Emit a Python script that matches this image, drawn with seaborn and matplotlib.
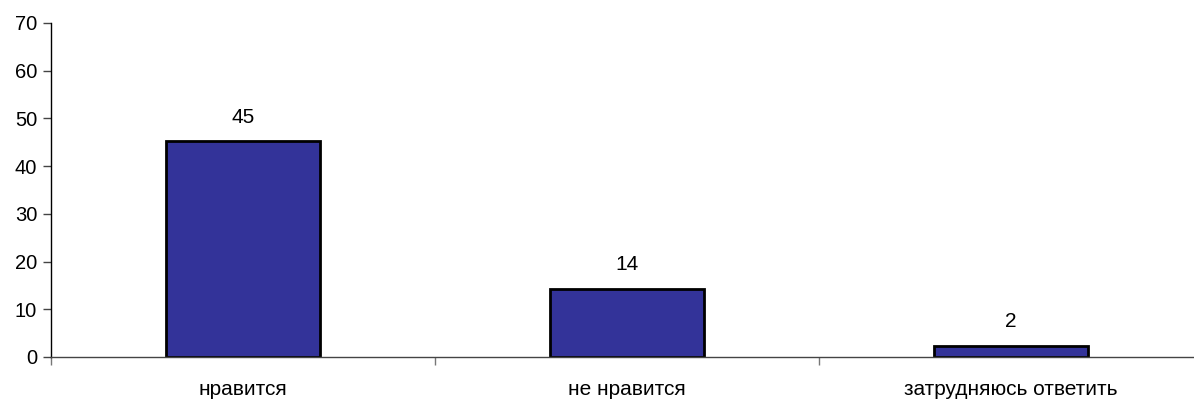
import matplotlib
matplotlib.use("Agg")
import pandas as pd
import seaborn as sns
import matplotlib.pyplot as plt

# data
categories = ["нравится", "не нравится", "затрудняюсь ответить"]
values = [45.3, 14.3, 2.4]
value_labels = ["45", "14", "2"]

sns.set_style("white")
plt.rcParams["font.family"] = ["Liberation Sans", "DejaVu Sans"]
plt.rcParams["text.color"] = "black"
plt.rcParams["xtick.color"] = "black"
plt.rcParams["ytick.color"] = "black"

df = pd.DataFrame({"answer": categories, "value": values})

fig = plt.figure(figsize=(11.94, 3.99), dpi=100)
ax = fig.add_axes([51 / 1194, 42 / 399, 1143 / 1194, 334 / 399])

sns.barplot(data=df, x="answer", y="value", color="#333399", width=0.4,
            edgecolor="black", linewidth=2, saturation=1, ax=ax)

for i, (v, lab) in enumerate(zip(values, value_labels)):
    ax.text(i, v + 3, lab, ha="center", va="bottom", fontsize=15, color="black")

ax.set_ylim(0, 70)
ax.set_yticks(range(0, 71, 10))
ax.set_xlim(-0.5, 2.477)
ax.set_xlabel("")
ax.set_ylabel("")

for s in ["top", "right"]:
    ax.spines[s].set_visible(False)
ax.spines["left"].set_color("black")
ax.spines["bottom"].set_color("#444444")
ax.spines["left"].set_linewidth(1)
ax.spines["bottom"].set_linewidth(1)

ax.tick_params(axis="y", left=True, length=6, width=1, color="#444444",
               labelsize=14.5, pad=4, labelcolor="black")
ax.tick_params(axis="x", which="major", bottom=False, labelsize=15, pad=13,
               labelcolor="black")
ax.set_xticks([-0.5, 0.5, 1.5], minor=True)
ax.tick_params(axis="x", which="minor", bottom=True, length=6, width=1,
               color="#777777")

fig.savefig("out.png", dpi=100)
